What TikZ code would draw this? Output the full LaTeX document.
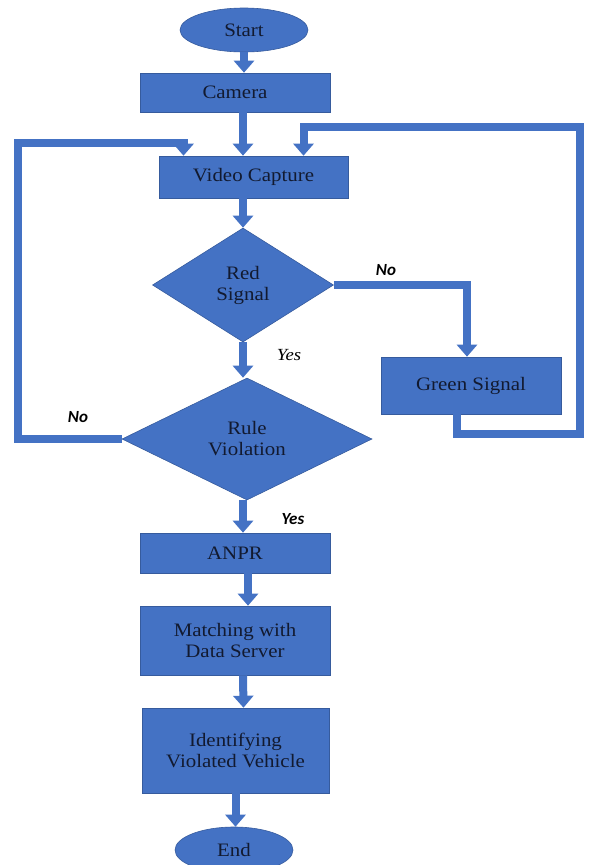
\documentclass[tikz,border=0pt]{standalone}
\usepackage{fontspec}
\setmainfont[FakeStretch=1.1]{Liberation Serif}
\newfontfamily\notefont{Carlito}
\usepackage{tikz}
\usetikzlibrary{shapes.geometric,arrows.meta}
\definecolor{boxblue}{RGB}{68,114,196}
\definecolor{boxtext}{RGB}{18,26,48}
\tikzset{
	base/.style={fill=boxblue, draw=boxblue!80!black, line width=0.6pt, text=boxtext, inner sep=0pt,
		font=\fontsize{19}{21}\selectfont, align=center},
	terminal/.style={base, ellipse},
	stepbox/.style={base, rectangle},
	decision/.style={base, diamond},
	flow/.style={draw=boxblue, line width=8pt, -{Triangle[width=20pt,length=12pt,fill=boxblue]}},
	notesans/.style={font=\notefont\bfseries\itshape\fontsize{17}{19}\selectfont},
	noteserif/.style={font=\itshape\fontsize{17}{19}\selectfont}
}

\begin{document}
\begin{tikzpicture}[x=1pt, y=-1pt]
				%%%%% START %%%%%
				\useasboundingbox (0,0) rectangle (589,865);
				
				\node[terminal, minimum width=128pt, minimum height=44pt] (start) at (244,30) {Start};
				\node[stepbox, minimum width=190pt, minimum height=39pt] (camera) at (235,92.5) {Camera};
				\node[stepbox, minimum width=189pt, minimum height=42pt] (video) at (253.5,177) {Video Capture};
				\node[decision, minimum width=181pt, minimum height=114pt] (red) at (243,285) {Red\\Signal};
				\node[stepbox, minimum width=180pt, minimum height=57pt] (green) at (471,385.5) {Green Signal};
				\node[decision, minimum width=250pt, minimum height=122pt] (rule) at (247,439) {Rule\\Violation};
				\node[stepbox, minimum width=190pt, minimum height=40pt] (anpr) at (235,553) {ANPR};
				\node[stepbox, minimum width=190pt, minimum height=69pt] (match) at (235,640.5) {Matching with\\Data Server};
				\node[stepbox, minimum width=187pt, minimum height=85pt] (ident) at (235.5,750.5) {Identifying\\Violated Vehicle};
				\node[terminal, minimum width=118pt, minimum height=46pt] (end) at (234,850) {End};
				
				% labels
				\node[notesans] (rednolbl) at (386,270) {No};
				\node[noteserif] (redyeslbl) at (289,355) {Yes};
				\node[notesans] (rulenolbl) at (78,417) {No};
				\node[notesans] (ruleyeslbl) at (293,519) {Yes};
				
				% loop corners
				\coordinate (lcorner) at (18,439);
				\coordinate (ltop) at (18,143);
				\coordinate (rcorner) at (580,434);
				\coordinate (rtop) at (580,127);
				
				% main line
				\draw[flow] (start.south) -- (start.south |- camera.north);
				\draw[flow] ([xshift=8pt]camera.south) -- ([xshift=8pt]camera.south |- video.north);
				\draw[flow] (red.north |- video.south) -- (red.north);
				\draw[flow] (red.south) -- (red.south |- rule.north);
				\draw[flow] (rule.south -| red.south) -- (red.south |- anpr.north);
				\draw[flow] ([xshift=13pt]anpr.south) -- ([xshift=13pt]match.north);
				\draw[flow] ([xshift=8pt]match.south) -- ([xshift=8pt]ident.north);
				\draw[flow] (ident.south) -- (ident.south |- end.north);
				
				% branches
				\draw[flow] (red.east) -| ([xshift=-4pt]green.north);
				\draw[flow] (rule.west) -- (lcorner) -- (ltop) -| ([xshift=-70pt]video.north);
				\draw[flow] ([xshift=-14pt]green.south) |- (rcorner) -- (rtop) -| ([xshift=50pt]video.north);
				%%%%% END %%%%%
\end{tikzpicture}
\end{document}
